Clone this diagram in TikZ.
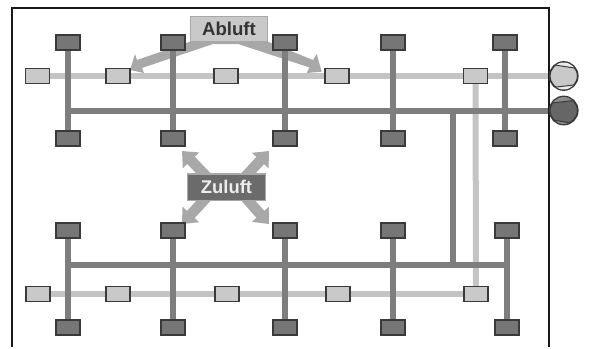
\documentclass[tikz,border=0pt]{standalone}
\usepackage{fontspec}
\setmainfont{Liberation Sans}
\usetikzlibrary{backgrounds,arrows.meta}
\definecolor{dk}{HTML}{767676}
\definecolor{dkline}{HTML}{7E7E7E}
\definecolor{lt}{HTML}{C9C9C9}
\definecolor{ltline}{HTML}{C4C4C4}
\definecolor{edge}{HTML}{3A3A3A}
\definecolor{arrowgrey}{HTML}{A8A8A8}
\tikzset{
  darkbox/.style={draw=edge,line width=2pt,fill=dk,minimum width=24pt,minimum height=15pt,inner sep=0pt},
  lightbox/.style={draw=edge,line width=1.7pt,fill=lt,minimum width=24pt,minimum height=15pt,inner sep=0pt},
  darkpipe/.style={draw=dkline,line width=6pt},
  lightpipe/.style={draw=ltline,line width=6pt},
  flowarrow/.style={draw=arrowgrey,line width=10.5pt,-{Triangle[width=22pt,length=13pt,fill=arrowgrey]}},
  flowshape/.style={fill=arrowgrey,draw=none},
  ablabel/.style={draw=arrowgrey,line width=1.5pt,fill=lt,minimum width=77pt,minimum height=25pt,inner sep=0pt,font=\fontsize{18.6pt}{20pt}\selectfont\bfseries,text=black!80},
  zulabel/.style={draw=arrowgrey,line width=1.5pt,fill=black!58,minimum width=78pt,minimum height=26.5pt,inner sep=0pt,font=\fontsize{18.4pt}{20pt}\selectfont\bfseries,text=black!7},
  duct/.style={circle,draw=edge,line width=1.8pt,minimum size=28pt,inner sep=0pt},
}
\begin{document}
\begin{tikzpicture}[x=1pt,y=-1pt]
\useasboundingbox (0,0) rectangle (593,348);
% room outline
\draw[black!90,line width=2pt] (12,347) -- (12,8) -- (548.5,8) -- (548.5,347);
% dark units
\foreach \n/\x/\y in {a1/67.5/42,a2/173/42,a3/285/42,a4/393/42,a5/505/42,
                      b1/67.5/138,b2/173/138,b3/285/138,b4/393/138,b5/505/138,
                      c1/68/230,c2/173/230,c3/285/230,c4/393/230,c5/507/230,
                      d1/68/327,d2/173/327,d3/285/327,d4/393/327,d5/507/327}
  \node[darkbox] (\n) at (\x,\y) {};
% light units
\foreach \n/\x/\y in {la1/37.5/76,la2/118/76,la3/226/76,la4/337/76,la5/475.5/76,
                      lb1/38/294,lb2/118/294,lb3/227/294,lb4/338/294,lb5/476/294}
  \node[lightbox] (\n) at (\x,\y) {};
% labels
\node[ablabel] (ab) at (229,29) {Abluft};
\node[zulabel] (zu) at (226.5,187) {Zuluft};
% ducts
\node[duct,fill=lt] (ductL) at (563.7,76) {};
\node[duct,fill=black!60] (ductD) at (563.7,110.5) {};
\begin{scope}
  \clip (563.7,76) circle (13.5pt);
  \fill[black!8] (545,60) -- (580,60) -- (580,68.5) -- (545,64) -- cycle;
  \fill[black!8] (545,88) -- (580,84.5) -- (580,95) -- (545,95) -- cycle;
  \draw[edge,line width=1pt] (548,64) -- (578,68.5);
  \draw[edge,line width=1pt] (548,88) -- (578,84.5);
\end{scope}
\begin{scope}
  \clip (563.7,110.5) circle (13.5pt);
  \fill[black!45] (545,90) -- (580,90) -- (580,100) -- (545,103.5) -- cycle;
  \fill[black!45] (545,119) -- (580,124.5) -- (580,130) -- (545,130) -- cycle;
  \draw[edge,line width=1pt] (548,103.5) -- (578,100);
  \draw[edge,line width=1pt] (548,119) -- (578,124.5);
\end{scope}
% named pipe junctions
\coordinate (ja) at (a1 |- ductD);
\coordinate (jc) at (68,265);
\coordinate (je) at (c5 |- jc);
\coordinate (ra) at (453,110.5);
\coordinate (rc) at (453,265);
% arrow ends, their starts hidden behind the Zuluft box
\coordinate (zTL) at (182,151);
\coordinate (zTR) at (269,151);
\coordinate (zBL) at (182,224);
\coordinate (zBR) at (269,224);
\coordinate (sTL) at (207,177);
\coordinate (sTR) at (245,177);
\coordinate (sBL) at (207,197);
\coordinate (sBR) at (245,197);
\begin{scope}[on background layer]
  % air flow arrows
  \fill[flowshape] (130,70) -- (135,54) -- (137,60) -- (192,41) -- (266,41) -- (313,60) -- (316.7,54)
     -- (321.7,71.7) -- (306.7,73) -- (309.5,67.5) -- (238,44) -- (213,44) -- (142,68) -- (144,73) -- cycle;
  \draw[flowarrow] (sTL) -- (zTL);
  \draw[flowarrow] (sTR) -- (zTR);
  \draw[flowarrow] (sBL) -- (zBL);
  \draw[flowarrow] (sBR) -- (zBR);
  % light pipes
  \draw[lightpipe] (la1.center) -- (ductL.center);
  \draw[lightpipe] (lb1.center) -- (lb5.center);
  \draw[lightpipe] (la5.center) -- (lb5.center);
  % dark pipes
  \draw[darkpipe] (ja) -- (ductD.center);
  \draw[darkpipe] (jc) -- (je);
  \draw[darkpipe] (ra) -- (rc);
  \foreach \i in {1,...,5} {
    \draw[darkpipe] (a\i.center) -- (b\i.center);
    \draw[darkpipe] (c\i.center) -- (d\i.center);
  }
\end{scope}
\end{tikzpicture}
\end{document}
